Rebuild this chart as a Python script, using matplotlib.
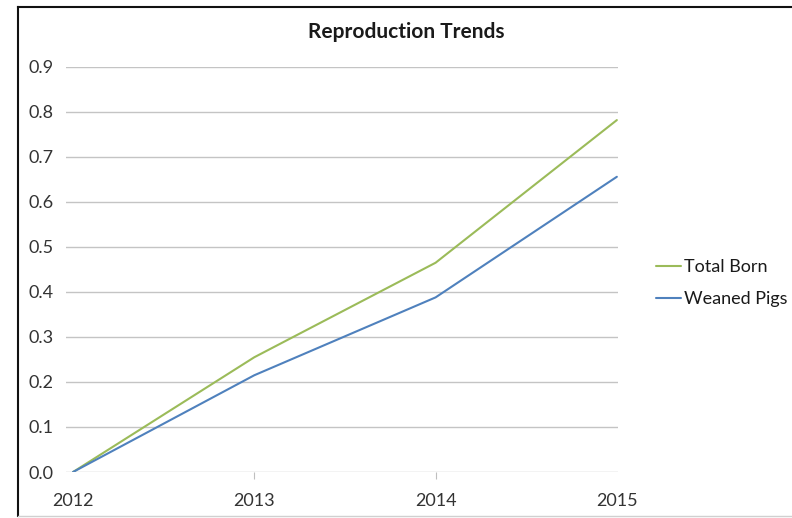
import matplotlib
matplotlib.use("Agg")
import matplotlib.pyplot as plt
from matplotlib.lines import Line2D

# ----- Data -----
years = ["2012", "2013", "2014", "2015"]
total_born = [0.0, 0.255, 0.465, 0.782]
weaned_pigs = [0.0, 0.215, 0.388, 0.656]
y_ticks = [0.0, 0.1, 0.2, 0.3, 0.4, 0.5, 0.6, 0.7, 0.8, 0.9]

plt.rcParams['font.family'] = ['Lato', 'DejaVu Sans']

fig = plt.figure(figsize=(7.92, 5.18), dpi=100)
ax = fig.add_axes([0.0833, 0.0888, 0.6967, 0.7819])

x = list(range(len(years)))
ax.plot(x, total_born, color='#9bbb59', lw=1.5, label='Total Born', solid_capstyle='round')
ax.plot(x, weaned_pigs, color='#4f81bd', lw=1.5, label='Weaned Pigs', solid_capstyle='round')

ax.set_xlim(-0.039, 3.005)
ax.set_ylim(0, 0.9)
ax.set_yticks(y_ticks)
ax.set_yticklabels([f"{v:.1f}" for v in y_ticks])
ax.set_xticks(x)
ax.set_xticklabels(years)

ax.grid(axis='y', color='#c4c4c4', lw=1.0)
ax.set_axisbelow(True)
for s in ax.spines.values():
    s.set_visible(False)
ax.tick_params(axis='y', length=0, pad=9, labelsize=13, colors='#333333')
ax.tick_params(axis='x', length=5, width=0.8, color='#bfbfbf', pad=10, labelsize=13, labelcolor='#333333')
ax.xaxis.get_major_ticks()[0].tick1line.set_visible(False)
ax.xaxis.get_major_ticks()[-1].tick1line.set_visible(False)

fig.text(0.513, 0.938, "Reproduction Trends", ha='center', va='center',
         fontsize=15, fontweight='bold', color='#1a1a1a')

ax.legend(loc='center left', bbox_to_anchor=(1.04, 0.466), frameon=False,
          handlelength=1.4, handletextpad=0.15, labelspacing=0.9,
          fontsize=13, labelcolor='#1a1a1a')

# chart frame: dark on left and top, faint along the bottom
left, top = 18 / 792, 1 - 7 / 518
fig.add_artist(Line2D([left, left], [0.004, top], transform=fig.transFigure, color='#111111', lw=1.5))
fig.add_artist(Line2D([left, 1], [top, top], transform=fig.transFigure, color='#111111', lw=1.5))
fig.add_artist(Line2D([left, 1], [0.004, 0.004], transform=fig.transFigure, color='#d0d0d0', lw=1.0))

fig.savefig('out.png', dpi=100)
